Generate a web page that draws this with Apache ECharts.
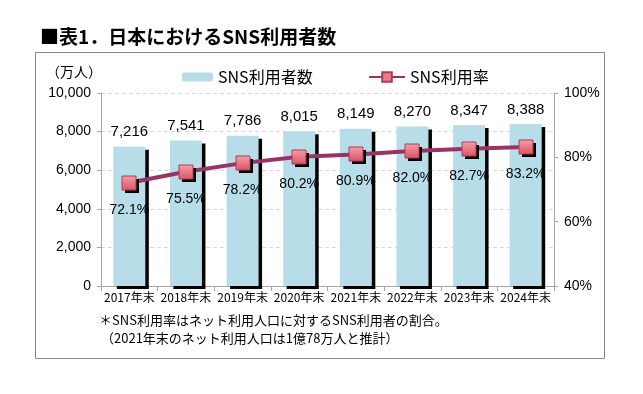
<!DOCTYPE html>
<html><head><meta charset="utf-8">
<script src="https://cdn.jsdelivr.net/npm/echarts@6/dist/echarts.min.js"></script>
<style>html,body{margin:0;padding:0;background:#fff}#c{width:643px;height:394px}</style>
</head><body><div id="c"></div>
<script>
var categories = ['2017年末','2018年末','2019年末','2020年末','2021年末','2022年末','2023年末','2024年末'];
var users = [7216, 7541, 7786, 8015, 8149, 8270, 8347, 8388];
var rates = [72.1, 75.5, 78.2, 80.2, 80.9, 82.0, 82.7, 83.2];
var leftTicks = {min: 0, max: 10000, interval: 2000};
var rightTicks = {min: 40, max: 100, interval: 20};
var titleText = '■表1．日本におけるSNS利用者数';
var unitText = '（万人）';
var note1 = '＊SNS利用率はネット利用人口に対するSNS利用者の割合。';
var note2 = '（2021年末のネット利用人口は1億78万人と推計）';

var FONT = '"Noto Sans CJK JP", "Liberation Sans", sans-serif';
var NUMFONT = '"Liberation Sans", Arial, sans-serif';
var chart = echarts.init(document.getElementById('c'), null, {renderer: 'canvas'});
chart.setOption({
  animation: false,
  backgroundColor: '#fff',
  textStyle: {fontFamily: FONT, color: '#000'},
  grid: {left: 101, right: 89, top: 93, bottom: 108},
  legend: [
    {data: ['SNS利用者数'], left: 177, top: 64, itemWidth: 31, itemHeight: 9, itemGap: 6,
     textStyle: {fontSize: 16, color: '#000', fontFamily: FONT}},
    {data: ['SNS利用率'], left: 363, top: 64, itemWidth: 36, itemHeight: 12,
     textStyle: {fontSize: 16, color: '#000', fontFamily: FONT}}
  ],
  xAxis: {
    type: 'category', data: categories,
    axisLine: {lineStyle: {color: '#a6a6a6', width: 1}},
    axisTick: {show: true, length: 5, lineStyle: {color: '#a6a6a6'}},
    axisLabel: {interval: 0, fontSize: 12, color: '#000', margin: 5, fontFamily: FONT}
  },
  yAxis: [
    {type: 'value', min: leftTicks.min, max: leftTicks.max, interval: leftTicks.interval,
     axisLine: {show: true, lineStyle: {color: '#a6a6a6'}},
     axisTick: {show: true, length: 4, lineStyle: {color: '#a6a6a6'}},
     axisLabel: {fontSize: 14, color: '#000', margin: 10, fontFamily: NUMFONT,
       formatter: function(v){ return v.toLocaleString('en-US'); }},
     splitLine: {show: true, lineStyle: {color: '#d9d9d9', type: [4, 3], width: 1}}},
    {type: 'value', min: rightTicks.min, max: rightTicks.max, interval: rightTicks.interval, position: 'right',
     axisLine: {show: true, lineStyle: {color: '#a6a6a6'}},
     axisTick: {show: true, length: 4, lineStyle: {color: '#a6a6a6'}},
     axisLabel: {fontSize: 14, color: '#000', margin: 10, formatter: '{value}%', fontFamily: NUMFONT},
     splitLine: {show: false}}
  ],
  series: [
    {name: 'SNS利用者数', type: 'bar', data: users, barWidth: 32, yAxisIndex: 0,
     itemStyle: {color: '#b7dde8', shadowColor: '#000', shadowOffsetX: 3.5, shadowOffsetY: 3, shadowBlur: 0},
     label: {show: true, position: 'top', distance: 7, fontSize: 15, color: '#000', fontFamily: NUMFONT,
       formatter: function(p){ return p.value.toLocaleString('en-US'); }}},
    {name: 'SNS利用率', type: 'line', data: rates, yAxisIndex: 1, z: 5,
     symbol: 'rect', symbolSize: 10, showSymbol: false,
     lineStyle: {color: '#993366', width: 4},
     itemStyle: {color: '#ec7b88', borderColor: '#b03a55', borderWidth: 1}},
    {name: 'rateMarkers', type: 'custom', yAxisIndex: 1, z: 6, silent: true,
     data: rates.map(function(v, i){ return [i, v]; }),
     renderItem: function(params, api){
       var p = api.coord([api.value(0), api.value(1)]);
       return {type: 'group', children: [
         {type: 'rect', shape: {x: Math.round(p[0]) - 4, y: Math.round(p[1]) - 4, width: 14, height: 14}, style: {fill: '#000'}},
         {type: 'rect', shape: {x: Math.round(p[0]) - 7, y: Math.round(p[1]) - 7, width: 14, height: 14},
          style: {fill: new echarts.graphic.LinearGradient(0, 0, 0, 1, [{offset: 0, color: '#f5a0a9'}, {offset: 1, color: '#db5266'}]),
                  stroke: '#b03a55', lineWidth: 1}},
         {type: 'text', x: p[0], y: p[1] + 27,
          style: {text: api.value(1).toFixed(1) + '%', align: 'center', verticalAlign: 'middle',
                  font: '14px ' + NUMFONT, fill: '#000'}}
       ]};
     }}
  ],
  graphic: [
    {type: 'rect', shape: {x: 35.5, y: 52.5, width: 569, height: 306}, silent: true, z: -10,
     style: {fill: 'none', stroke: '#888', lineWidth: 1}},
    {type: 'text', left: 40, top: 27, style: {text: titleText, font: 'bold 19px ' + FONT, fill: '#000'}},
    {type: 'text', left: 46, top: 65, style: {text: unitText, font: '14px ' + FONT, fill: '#000'}},
    {type: 'text', left: 99, top: 314, style: {text: note1, font: '13px ' + FONT, fill: '#000'}},
    {type: 'text', left: 101, top: 332, style: {text: note2, font: '13px ' + FONT, fill: '#000'}}
  ]
});
</script></body></html>
